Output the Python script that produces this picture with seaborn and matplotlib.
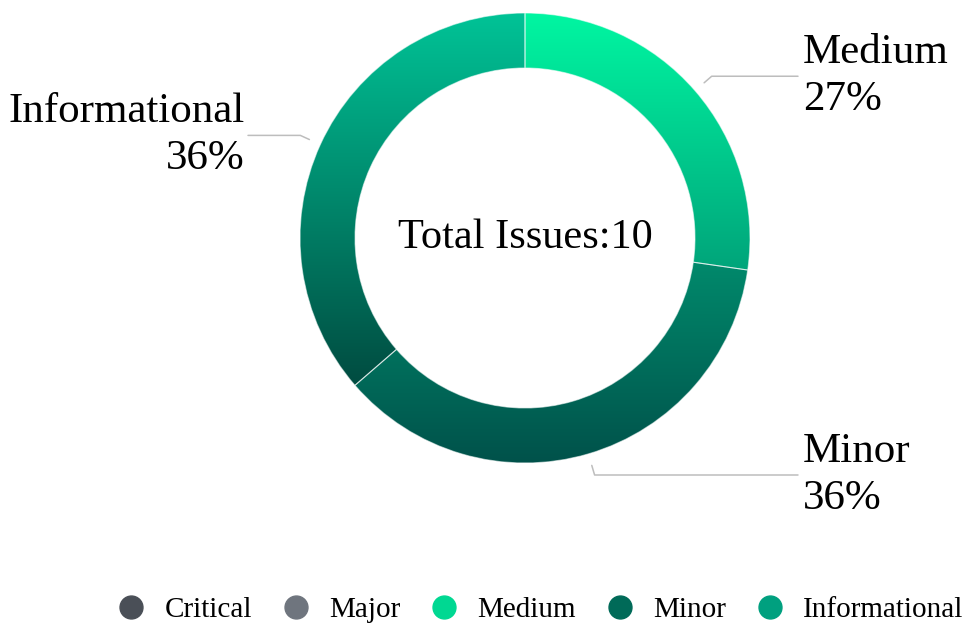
import numpy as np
import matplotlib
matplotlib.use("Agg")
import matplotlib.pyplot as plt
import seaborn as sns
from matplotlib.colors import LinearSegmentedColormap
from matplotlib.lines import Line2D

# ---- data ----
categories = ["Critical", "Major", "Medium", "Minor", "Informational"]
percentages = [0, 0, 27, 36, 36]
total_issues = 10
legend_colors = ["#4a4f57", "#6f757e", "#00d892", "#006a58", "#00a07f"]
grad_top = ["#4a4f57", "#6f757e", "#00f7a2", "#008a6c", "#00c497"]
grad_bottom = ["#4a4f57", "#6f757e", "#00a47a", "#00514a", "#004b40"]

sns.set_theme(style="white")
plt.rcParams["font.family"] = ["Liberation Serif", "DejaVu Serif"]

W, H = 967, 626
fig = plt.figure(figsize=(W / 100, H / 100), dpi=100)
ax = fig.add_axes([0, 0, 1, 1])

cx, cy = 525, H - 238
R, ring = 225, 55

shown = [i for i, p in enumerate(percentages) if p > 0]
wedges, _ = ax.pie(
    [percentages[i] for i in shown],
    radius=R, center=(cx, cy), startangle=90, counterclock=False,
    wedgeprops=dict(width=ring, edgecolor=(1, 1, 1, 0.55), linewidth=0.8,
                    facecolor="none", zorder=3),
)

for w, i in zip(wedges, shown):
    th = np.radians(np.linspace(w.theta1, w.theta2, 400))
    xs = np.concatenate([cx + R * np.cos(th), cx + (R - ring) * np.cos(th)])
    ys = np.concatenate([cy + R * np.sin(th), cy + (R - ring) * np.sin(th)])
    cmap = LinearSegmentedColormap.from_list(f"g{i}", [grad_top[i], grad_bottom[i]])
    grad = np.linspace(0, 1, 256).reshape(-1, 1)
    im = ax.imshow(grad, cmap=cmap, origin="upper", aspect="auto",
                   extent=(xs.min() - 2, xs.max() + 2, ys.min() - 2, ys.max() + 2),
                   zorder=2, interpolation="bilinear")
    im.set_clip_path(w)

    mid = np.radians((w.theta1 + w.theta2) / 2)
    c, s = np.cos(mid), np.sin(mid)
    p1 = (cx + 237 * c, cy + 237 * s)
    p2 = (cx + 247 * c, cy + 247 * s)
    xend = 798 if c > 0 else 248
    ax.plot([p1[0], p2[0], xend], [p1[1], p2[1], p2[1]], color="#bdbdbd", lw=1.1, zorder=4)
    if c > 0:
        ax.text(803, p2[1], f"{categories[i]}\n{percentages[i]}%", ha="left", va="center",
                fontsize=31, color="black", linespacing=1.3)
    else:
        ax.text(245, p2[1], f"{categories[i]}\n{percentages[i]}%", ha="right", va="center",
                fontsize=31, color="black", linespacing=1.3, multialignment="right")

ax.text(cx, cy, f"Total Issues:{total_issues}", ha="center", va="center",
        fontsize=30.5, color="black")

handles = [Line2D([], [], marker="o", ls="", markersize=16.5,
                  markerfacecolor=col, markeredgecolor=col) for col in legend_colors]
leg = ax.legend(handles, categories, loc="center", bbox_to_anchor=(540 / W, 1 - 610 / H),
                bbox_transform=fig.transFigure, ncol=5, frameon=False, fontsize=21,
                handlelength=1.0, handletextpad=0.64, columnspacing=1.0, borderpad=0,
                borderaxespad=0)
for t in leg.get_texts():
    t.set_color("black")

ax.set_xlim(0, W)
ax.set_ylim(0, H)
ax.set_aspect("equal")
ax.axis("off")

fig.savefig("out.png", dpi=100)
